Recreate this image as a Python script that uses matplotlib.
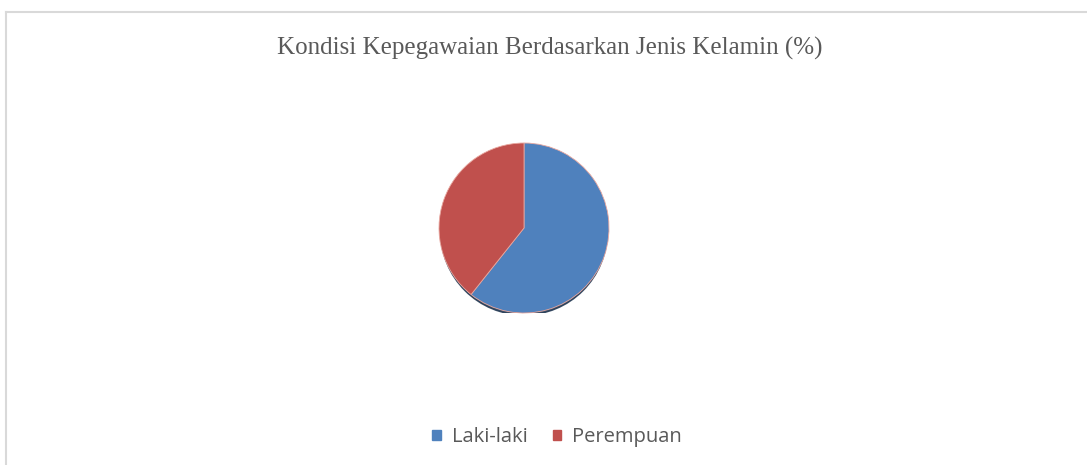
import matplotlib.pyplot as plt
from matplotlib.patches import Ellipse, Rectangle
from matplotlib.lines import Line2D

# data
labels = ["Laki-laki", "Perempuan"]
values = [60.7, 39.3]
colors = ["#4F81BD", "#C0504D"]
title = "Kondisi Kepegawaian Berdasarkan Jenis Kelamin (%)"

W, H = 1087, 465
fig = plt.figure(figsize=(W / 100, H / 100), dpi=100)
fig.patch.set_facecolor("white")

# outer frame (partly cropped on right/bottom)
fig.add_artist(Line2D([6 / W, 1], [1 - 12 / H, 1 - 12 / H], transform=fig.transFigure,
                      color="#D9D9D9", lw=1.5))
fig.add_artist(Line2D([6 / W, 6 / W], [0, 1 - 12 / H], transform=fig.transFigure,
                      color="#D9D9D9", lw=1.5))

# pie axes: center (524, 228), radius ~85 px
cx, cy, r = 524, 228, 85
ax = fig.add_axes([(cx - r) / W, 1 - (cy + r) / H, 2 * r / W, 2 * r / H])
ax.axis("off")

# shadow below the pie
ax.add_patch(Ellipse((0.0, -0.045), 1.96, 1.96, color="#1F3550", alpha=0.85, zorder=0))

wedges, _ = ax.pie(values, colors=colors, startangle=90, counterclock=False, radius=1.0,
                   wedgeprops=dict(edgecolor="#E8A8A0", linewidth=0.6))
for w in wedges:
    w.set_zorder(1)

ax.set_xlim(-1, 1)
ax.set_ylim(-1, 1)
ax.set_aspect("equal")

fig.text(550 / W, 1 - 48 / H, title, ha="center", va="center",
         fontsize=18, family="Liberation Serif", color="#595959")

# legend
handles = [Rectangle((0, 0), 1, 1, color=c) for c in colors]
fig.legend(handles, labels, loc="center", bbox_to_anchor=(557 / W, 1 - 437 / H),
           ncol=2, frameon=False, handlelength=0.42, handleheight=0.42,
           handletextpad=0.55, columnspacing=1.25,
           prop=dict(family="Open Sans", size=14.5), labelcolor="#595959")

fig.savefig("out.png", dpi=100)
